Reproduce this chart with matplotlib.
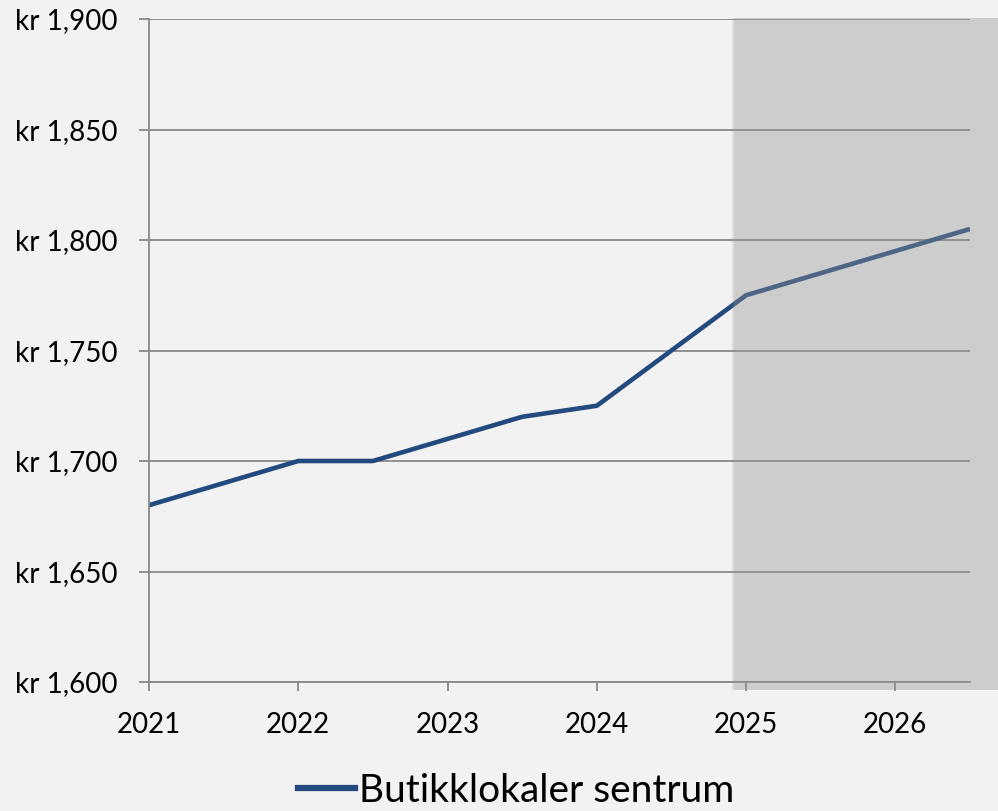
import matplotlib.pyplot as plt
from matplotlib.patches import Rectangle
from matplotlib.lines import Line2D

# ---------------------------------------------------------------------------
# Data (half-year steps)
# ---------------------------------------------------------------------------

PERIODS = [2021.0, 2021.5, 2022.0, 2022.5, 2023.0, 2023.5,
           2024.0, 2024.5, 2025.0, 2025.5, 2026.0, 2026.5]
RENT = [1680, 1690, 1700, 1700, 1710, 1720,
        1725, 1750, 1775, 1785, 1795, 1805]

SERIES_NAME = "Butikklokaler sentrum"
X_TICKS = [2021, 2022, 2023, 2024, 2025, 2026]
Y_TICKS = [1600, 1650, 1700, 1750, 1800, 1850, 1900]
FORECAST_START = 2024.92

LINE_COLOR = "#224a7e"
GRID_COLOR = "#898989"
BG_COLOR = "#f2f2f2"

plt.rcParams["font.family"] = ["Lato", "DejaVu Sans"]

W, H = 998, 811
fig = plt.figure(figsize=(W / 100, H / 100), dpi=100, facecolor=BG_COLOR)
ax = fig.add_axes([149 / W, (H - 682) / H, (970 - 149) / W, (682 - 19) / H])
ax.set_facecolor(BG_COLOR)

ax.plot(PERIODS, RENT, color=LINE_COLOR, linewidth=3.3, zorder=2,
        solid_capstyle="butt")

ax.set_xlim(2021, 2026.5)
ax.set_ylim(1600, 1900)
ax.set_xticks(X_TICKS)
ax.set_xticklabels([str(x) for x in X_TICKS])
ax.set_yticks(Y_TICKS)
ax.set_yticklabels([f"kr {v:,}" for v in Y_TICKS])

ax.set_axisbelow(True)
ax.yaxis.grid(True, color=GRID_COLOR, linewidth=1.3)
for side in ["top", "right"]:
    ax.spines[side].set_visible(False)
for side in ["left", "bottom"]:
    ax.spines[side].set_color(GRID_COLOR)
    ax.spines[side].set_linewidth(1.3)
ax.tick_params(axis="both", colors=GRID_COLOR, labelcolor="black",
               labelsize=20, width=1.3)
ax.tick_params(axis="y", length=7.5, pad=15)
ax.tick_params(axis="x", length=6.5, pad=15)

# forecast shading, spills past the plot area like the original
px = (2026.5 - 2021) / (970 - 149)
py = (1900 - 1600) / (682 - 19)
shade = dict(facecolor="#939393", edgecolor="none", clip_on=False, zorder=3)
ax.add_patch(Rectangle((FORECAST_START, 1600 - 8 * py),
                       2028 - FORECAST_START, 300 + 9 * py, alpha=0.39, **shade))
for i, a in enumerate([0.25, 0.14, 0.06]):
    ax.add_patch(Rectangle((FORECAST_START - (i + 1) * px, 1600 - 8 * py),
                           px, 300 + 9 * py, alpha=a, **shade))

handle = Line2D([], [], color=LINE_COLOR, linewidth=4.5)
fig.legend([handle], [SERIES_NAME], loc="center", bbox_to_anchor=(516 / W, 1 - 791 / H),
           frameon=False, fontsize=28, handlelength=1.45, handletextpad=0.1,
           borderpad=0, borderaxespad=0)

fig.savefig("out.png", dpi=100, facecolor=BG_COLOR)
